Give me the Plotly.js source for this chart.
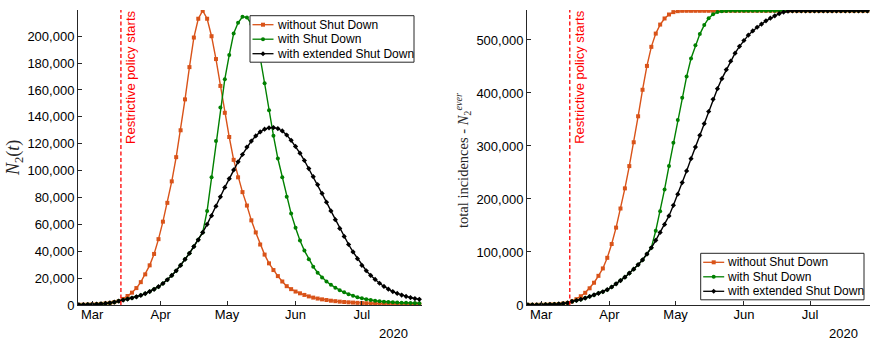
<!DOCTYPE html>
<html>
<head>
<meta charset="utf-8">
<script src="https://cdn.plot.ly/plotly-3.0.1.min.js"></script>
<style>
  html, body { margin: 0; padding: 0; background: #fff; overflow: hidden; width: 870px; height: 343px; }
  #chart { position: absolute; left: 0; top: 0; width: 870px; height: 343px; }
</style>
</head>
<body>
<div id="chart"></div>
<script>
// Simulation output sampled every second day, 24 Feb 2020 .. 27 Jul 2020
const firstDay = '2020-02-24';
const stepDays = 2;
const policyStart = '2020-03-14';
const seriesNames = ['without Shut Down', 'with Shut Down', 'with extended Shut Down'];
const monthTicks = ['2020-03-01', '2020-04-01', '2020-05-01', '2020-06-01', '2020-07-01'];
const monthLabels = ['Mar', 'Apr', 'May', 'Jun', 'Jul'];
const yearLabel = '2020';
const policyLabel = 'Restrictive policy starts';

// N2(t): currently infected
const n2NoShutdown = [
  180, 240, 320, 430, 600, 850, 1150, 1550, 2100, 2900,
  4500, 6700, 9200, 12600, 17000, 22800, 29500, 38000, 49000, 62000,
  76000, 92000, 110000, 130000, 153000, 177000, 199000, 213000,
  219000, 213000, 200000, 183000, 163000, 143000, 125000, 108000, 95000, 84000,
  74000, 63000, 54000, 45000, 37500, 31000, 26000, 21500, 17500, 14000,
  11800, 10000, 8700, 7500, 6400, 5500, 4800, 4200, 3700, 3200,
  2850, 2500, 2250, 2000, 1800, 1600, 1450, 1300, 1180, 1070,
  970, 880, 800, 730, 670, 610, 560, 520, 480, 450
];
const n2Shutdown = [
  180, 240, 320, 430, 600, 850, 1150, 1550, 2100, 2900,
  3700, 4400, 5200, 6100, 7200, 8500, 10000, 11700, 13600, 16000,
  18800, 22000, 25500, 29500, 34000, 38500, 43500, 48500,
  54000, 70000, 95000, 122000, 147000, 168000, 186000, 202000, 210000, 214500,
  214000, 209000, 199000, 184000, 165000, 145000, 126000, 109000, 95000, 80500,
  68000, 57500, 48000, 40500, 34000, 28500, 24000, 20500, 17500, 15000,
  12800, 11000, 9400, 8000, 6800, 5800, 5000, 4300, 3700, 3200,
  2800, 2450, 2200, 2000, 1850, 1700, 1600, 1500, 1400, 1300
];
const n2Extended = [
  180, 240, 320, 430, 600, 850, 1150, 1550, 2100, 2900,
  3700, 4400, 5200, 6100, 7200, 8500, 10000, 11700, 13600, 16000,
  18800, 22000, 25500, 29500, 34000, 38500, 43500, 48500,
  54000, 60000, 66500, 73500, 80500, 87500, 94000, 100500, 106500, 112000,
  117500, 122000, 125800, 128800, 130800, 131800, 132000, 131300, 129500, 126500,
  122500, 118000, 113000, 107500, 101500, 95500, 89500, 83000, 76500, 70000,
  63500, 57000, 51000, 45000, 39500, 34500, 29500, 25500, 22000, 19000,
  16200, 13800, 11800, 10000, 8600, 7400, 6400, 5500, 4800, 4200
];

// N2^ever: total incidences
const totalNoShutdown = [
  250, 320, 420, 560, 750, 1000, 1400, 1950, 2800, 4000,
  6800, 11000, 16500, 23000, 31500, 42000, 55000, 69000, 89000, 115000,
  146000, 182000, 220000, 262000, 307000, 356000, 406000, 451000,
  487000, 512000, 529000, 540500, 548000, 552500, 554300, 555000, 555000, 555000,
  555000, 555000, 555000, 555000, 555000, 555000, 555000, 555000, 555000, 555000,
  555000, 555000, 555000, 555000, 555000, 555000, 555000, 555000, 555000, 555000,
  555000, 555000, 555000, 555000, 555000, 555000, 555000, 555000, 555000, 555000,
  555000, 555000, 555000, 555000, 555000, 555000, 555000, 555000, 555000, 555000
];
const totalShutdown = [
  250, 320, 420, 560, 750, 1000, 1400, 1950, 2800, 4000,
  6800, 8500, 10500, 13000, 16000, 19000, 22000, 25000, 29000, 34000,
  40000, 46000, 52500, 60000, 67500, 76000, 85000, 96000,
  108000, 140000, 177000, 218000, 262000, 306000, 349000, 391000, 431000, 465000,
  490000, 511000, 528000, 541000, 548500, 552500, 554000, 554800, 555000, 555000,
  555000, 555000, 555000, 555000, 555000, 555000, 555000, 555000, 555000, 555000,
  555000, 555000, 555000, 555000, 555000, 555000, 555000, 555000, 555000, 555000,
  555000, 555000, 555000, 555000, 555000, 555000, 555000, 555000, 555000, 555000
];
const totalExtended = [
  250, 320, 420, 560, 750, 1000, 1400, 1950, 2800, 4000,
  6800, 8500, 10500, 13000, 16000, 19000, 22000, 25000, 29000, 34000,
  40000, 46000, 52500, 60000, 67500, 76000, 85000, 96000,
  108000, 122000, 137000, 152000, 168000, 188000, 209000, 231000, 253000, 276000,
  298000, 320000, 342000, 365000, 388000, 408000, 427000, 444000, 460000, 475000,
  488000, 499000, 509000, 517000, 524000, 530000, 536000, 541000, 545500, 549500,
  552500, 554300, 555000, 555000, 555000, 555000, 555000, 555000, 555000, 555000,
  555000, 555000, 555000, 555000, 555000, 555000, 555000, 555000, 555000, 555000
];

// date grid for the samples
const dates = [];
{
  const t0 = new Date(firstDay + 'T00:00:00Z');
  for (let i = 0; i < n2NoShutdown.length; i++) {
    const t = new Date(t0.getTime() + i * stepDays * 86400000);
    dates.push(t.toISOString().slice(0, 10));
  }
}

const colors = ['#D95319', '#008000', '#000000'];
const markers = [
  {symbol: 'square', size: 4},
  {symbol: 'circle', size: 4},
  {symbol: 'diamond', size: 4}
];
const axisColor = '#262626';
const sans = 'Liberation Sans, Arial, sans-serif';
const serif = 'Liberation Serif, DejaVu Serif, serif';

const W = 870, H = 343;
const px = v => v / W, py = v => 1 - v / H;

function makeTraces(ys, xa, ya) {
  return ys.map((y, k) => ({
    type: 'scatter', mode: 'lines+markers',
    x: dates, y: y, xaxis: xa, yaxis: ya,
    name: seriesNames[k], showlegend: false,
    line: {color: colors[k], width: 1.4},
    marker: {color: colors[k], symbol: markers[k].symbol, size: markers[k].size, line: {width: 0}}
  }));
}

const traces = [
  ...makeTraces([n2NoShutdown, n2Shutdown, n2Extended], 'x', 'y'),
  ...makeTraces([totalNoShutdown, totalShutdown, totalExtended], 'x2', 'y2')
];

// Boxed legend with compact rows, drawn in paper space
function boxedLegend(left, top, width, rowGap) {
  const shapes = [], notes = [];
  const height = rowGap * seriesNames.length + 3;
  shapes.push({type: 'rect', xref: 'paper', yref: 'paper', layer: 'above',
    x0: px(left), x1: px(left + width), y0: py(top + height), y1: py(top),
    fillcolor: '#fff', line: {color: axisColor, width: 1}});
  seriesNames.forEach((name, k) => {
    const yc = top + 9 + k * rowGap;
    shapes.push({type: 'line', xref: 'paper', yref: 'paper', layer: 'above',
      x0: px(left + 2.5), x1: px(left + 23.5), y0: py(yc), y1: py(yc),
      line: {color: colors[k], width: 1.3}});
    const mx = left + 13, r = 2;
    if (k === 0) {
      shapes.push({type: 'rect', xref: 'paper', yref: 'paper', layer: 'above',
        x0: px(mx - r), x1: px(mx + r), y0: py(yc + r), y1: py(yc - r),
        fillcolor: colors[k], line: {width: 0}});
    } else if (k === 1) {
      shapes.push({type: 'circle', xref: 'paper', yref: 'paper', layer: 'above',
        x0: px(mx - r), x1: px(mx + r), y0: py(yc + r), y1: py(yc - r),
        fillcolor: colors[k], line: {width: 0}});
    } else {
      shapes.push({type: 'path', xref: 'paper', yref: 'paper', layer: 'above',
        path: `M ${px(mx - r - 0.5)} ${py(yc)} L ${px(mx)} ${py(yc - r - 0.5)} L ${px(mx + r + 0.5)} ${py(yc)} L ${px(mx)} ${py(yc + r + 0.5)} Z`,
        fillcolor: colors[k], line: {width: 0}});
    }
    notes.push({xref: 'paper', yref: 'paper', x: px(left + 24.5), y: py(yc),
      xanchor: 'left', yanchor: 'middle', showarrow: false, text: name,
      font: {family: sans, size: 12, color: '#000'}});
  });
  return {shapes, notes};
}

const leg1 = boxedLegend(250, 15.7, 164, 14.5);
const leg2 = boxedLegend(700.7, 253.3, 163.3, 14.5);

const xRange = ['2020-02-23 14:00', '2020-07-28 05:00'];
const xAxisCommon = {
  type: 'date', range: xRange,
  tickvals: monthTicks, ticktext: monthLabels,
  ticks: 'inside', ticklen: 4, tickcolor: axisColor, tickwidth: 1,
  showline: true, linecolor: axisColor, linewidth: 1,
  showgrid: false, zeroline: false, ticklabelstandoff: -3,
  tickfont: {family: sans, size: 13, color: '#000'}
};
const yAxisCommon = {
  ticks: 'inside', ticklen: 4, tickcolor: axisColor, tickwidth: 1,
  showline: true, linecolor: axisColor, linewidth: 1,
  showgrid: false, zeroline: false, tickformat: ',d',
  tickfont: {family: sans, size: 13, color: '#000'}
};

const dashed = {color: '#ff0000', width: 1.3, dash: '4px,2.5px'};

const layout = {
  width: W, height: H, autosize: false,
  margin: {l: 0, r: 0, t: 0, b: 0, pad: 0},
  paper_bgcolor: '#fff', plot_bgcolor: '#fff',
  showlegend: false,
  xaxis: Object.assign({}, xAxisCommon, {domain: [px(78), px(422)], anchor: 'y'}),
  yaxis: Object.assign({}, yAxisCommon, {domain: [py(305), py(10)], anchor: 'x',
    range: [0, 219500], tickvals: [0, 20000, 40000, 60000, 80000, 100000, 120000, 140000, 160000, 180000, 200000]}),
  xaxis2: Object.assign({}, xAxisCommon, {domain: [px(527), px(870)], anchor: 'y2'}),
  yaxis2: Object.assign({}, yAxisCommon, {domain: [py(305), py(10)], anchor: 'x2',
    range: [0, 556500], tickvals: [0, 100000, 200000, 300000, 400000, 500000]}),
  shapes: [
    {type: 'line', xref: 'x', yref: 'y domain', x0: policyStart, x1: policyStart, y0: 0, y1: 1, line: dashed},
    {type: 'line', xref: 'x2', yref: 'y2 domain', x0: policyStart, x1: policyStart, y0: 0, y1: 1, line: dashed},
    ...leg1.shapes, ...leg2.shapes
  ],
  annotations: [
    {xref: 'x', yref: 'paper', x: policyStart, y: py(9), xanchor: 'left', yanchor: 'top',
     text: policyLabel, textangle: -90, showarrow: false,
     font: {family: sans, size: 13, color: '#ff0000'}},
    {xref: 'x2', yref: 'paper', x: policyStart, y: py(9), xanchor: 'left', yanchor: 'top',
     text: policyLabel, textangle: -90, showarrow: false,
     font: {family: sans, size: 13, color: '#ff0000'}},
    {xref: 'paper', yref: 'paper', x: px(393), y: py(333), xanchor: 'center', yanchor: 'middle',
     text: yearLabel, showarrow: false, font: {family: sans, size: 13, color: '#000'}},
    {xref: 'paper', yref: 'paper', x: px(843), y: py(333), xanchor: 'center', yanchor: 'middle',
     text: yearLabel, showarrow: false, font: {family: sans, size: 13, color: '#000'}},
    {xref: 'paper', yref: 'paper', x: px(14), y: py(158), xanchor: 'center', yanchor: 'middle',
     text: '<i>N</i><sub>2</sub>(<i>t</i>)', textangle: -90, showarrow: false,
     font: {family: serif, size: 18, color: '#262626'}},
    {xref: 'paper', yref: 'paper', x: px(463), y: py(161), xanchor: 'center', yanchor: 'middle',
     text: 'total incidences - <i>N</i><sub>2</sub><sup><i>ever</i></sup>', textangle: -90, showarrow: false,
     font: {family: serif, size: 14.5, color: '#262626'}},
    ...leg1.notes, ...leg2.notes
  ]
};

Plotly.newPlot('chart', traces, layout, {displayModeBar: false, staticPlot: true});
</script>
</body>
</html>
